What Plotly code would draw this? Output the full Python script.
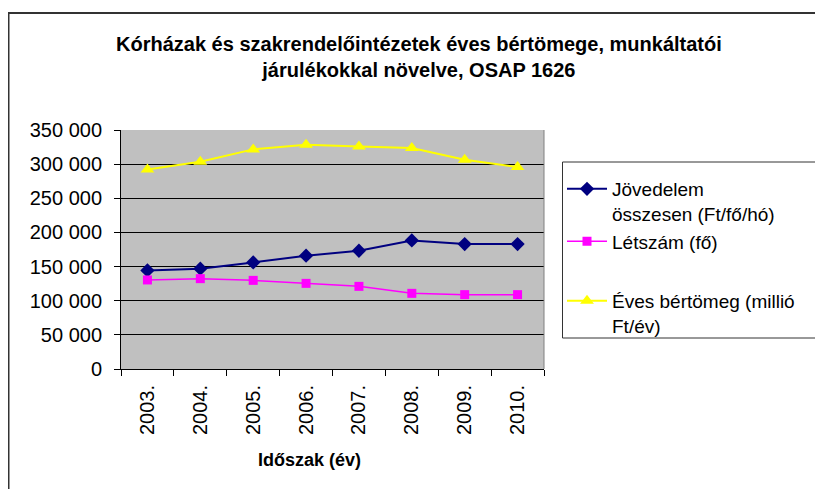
import plotly.graph_objects as go

years = ["2003.", "2004.", "2005.", "2006.", "2007.", "2008.", "2009.", "2010."]
jovedelem = [144400, 146900, 156100, 165900, 173200, 188300, 183000, 183000]
letszam = [130400, 132300, 129800, 125400, 121000, 110800, 108900, 108900]
bertomeg = [292000, 303600, 321600, 328500, 326000, 323500, 306600, 295800]

names = ["Jövedelem<br>összesen (Ft/fő/hó)", "Létszám (fő)<br> ", "Éves bértömeg (millió<br>Ft/év)"]
title_text = "Kórházak és szakrendelőintézetek éves bértömege, munkáltatói<br>járulékokkal növelve, OSAP 1626"
xtitle = "Időszak (év)"

FONT = "Liberation Sans, Arial, sans-serif"

fig = go.Figure()
fig.add_trace(go.Scatter(x=years, y=jovedelem, name=names[0], mode="lines+markers",
                         line=dict(color="#000080", width=2),
                         marker=dict(symbol="diamond", size=11, color="#000080"),
                         legendgroup="a"))
fig.add_trace(go.Scatter(x=years, y=letszam, name=names[1], mode="lines+markers",
                         line=dict(color="#FF00FF", width=1.5),
                         marker=dict(symbol="square", size=9, color="#FF00FF"),
                         legendgroup="a"))
fig.add_trace(go.Scatter(x=years, y=bertomeg, name=names[2], mode="lines+markers",
                         line=dict(color="#FFFF00", width=2),
                         marker=dict(symbol="triangle-up", size=12, color="#FFFF00"),
                         legendgroup="b"))

# page is rendered with an 8px body offset; work in reference pixel coords
OFF = 8
L_ref, T_ref = 121, 130
pw, ph = 423, 239
W, H = 823, 489
L, T = L_ref - OFF, T_ref - OFF
R, B = W - L - pw, H - T - ph

def px(x):
    return (x - L_ref) / pw

def py(y):
    return (T_ref + ph - y) / ph

fig.update_layout(
    width=W, height=H,
    margin=dict(l=L, r=R, t=T, b=B),
    paper_bgcolor="white",
    plot_bgcolor="#C0C0C0",
    separators=", ",
    font=dict(family=FONT, size=20, color="black"),
    showlegend=True,
    legend=dict(x=px(562), y=py(170), xanchor="left", yanchor="top",
                bgcolor="rgba(0,0,0,0)", borderwidth=0,
                font=dict(family=FONT, size=19, color="black"),
                valign="top", itemwidth=40, tracegroupgap=7,
                traceorder="grouped"),
    xaxis=dict(type="category", range=[-0.5, 7.5], tickson="boundaries",
               ticks="outside", ticklen=6, tickcolor="black", tickangle=-90,
               ticklabelstandoff=7,
               showline=True, linecolor="black", linewidth=1, showgrid=False,
               tickfont=dict(family=FONT, size=20), fixedrange=True),
    yaxis=dict(range=[0, 350000], dtick=50000, tickformat=",d",
               ticks="outside", ticklen=6, tickcolor="black",
               ticklabelstandoff=8,
               showline=True, linecolor="black", linewidth=1,
               showgrid=True, gridcolor="black", gridwidth=1,
               zeroline=False, tickfont=dict(family=FONT, size=20),
               fixedrange=True),
    shapes=[
        dict(type="line", xref="paper", yref="paper", x0=1, x1=1, y0=0, y1=1,
             line=dict(color="#808080", width=1), layer="above"),
        dict(type="rect", xref="paper", yref="paper",
             x0=px(8.5), x1=px(840), y0=py(500), y1=py(13),
             line=dict(color="#333333", width=2), layer="above"),
        dict(type="rect", xref="paper", yref="paper",
             x0=px(562.5), x1=px(840), y0=py(338), y1=py(162),
             line=dict(color="#333333", width=1), layer="above"),
    ],
    annotations=[
        dict(text="<b>" + title_text + "</b>", xref="paper", yref="paper",
             x=px(419), y=py(57), xanchor="center", yanchor="middle",
             showarrow=False, font=dict(family=FONT, size=20, color="black")),
        dict(text="<b>" + xtitle + "</b>", xref="paper", yref="paper",
             x=px(309), y=py(460), xanchor="center", yanchor="middle",
             showarrow=False, font=dict(family=FONT, size=18, color="black")),
    ],
)

fig.write_html("out.html")
